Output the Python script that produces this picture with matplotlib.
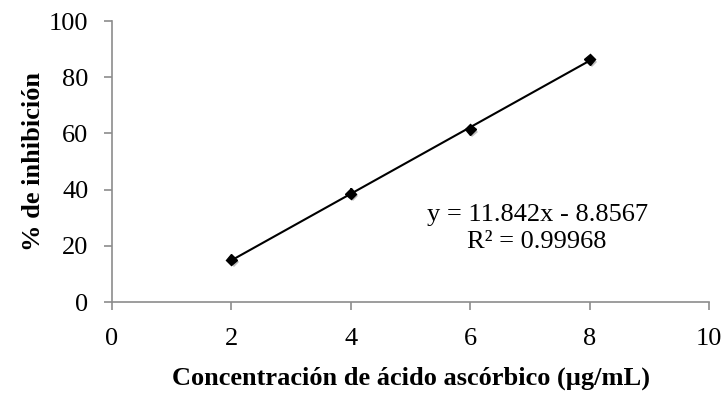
"""Calibration curve: % inhibition vs ascorbic acid concentration."""
import numpy as np, matplotlib
matplotlib.use("Agg")
import matplotlib.pyplot as plt
import matplotlib.patheffects as pe

plt.rcParams["font.family"] = ["Liberation Serif", "DejaVu Serif"]
INK, AX = "#000000", "#8c8c8c"

conc = [2, 4, 6, 8]
inhib = [15.1, 38.6, 61.4, 86.3]
err = [1.0, 1.8, 0.8, 0.8]
slope, intercept = 11.842, -8.8567
eq_text = "y = 11.842x - 8.8567\nR² = 0.99968"

fig = plt.figure(figsize=(7.25, 3.94), dpi=100)
ax = fig.add_axes([0.1545, 0.2335, 0.978 - 0.1545, 0.9467 - 0.2335])

xs = np.array([conc[0], conc[-1]])
ax.plot(xs, slope * xs + intercept, color=INK, lw=1.5, zorder=2)
shadow = [pe.SimplePatchShadow(offset=(1.5, -1.5), alpha=0.25), pe.Normal()]
ax.errorbar(conc, inhib, yerr=err, fmt="D", ms=5.5, color=INK, ecolor=INK,
            elinewidth=1.2, capsize=0, zorder=3, path_effects=shadow)

ax.set_xlim(0, 10); ax.set_ylim(0, 100)
ax.set_xticks(range(0, 11, 2)); ax.set_yticks(range(0, 101, 20))
for s in ("top", "right"): ax.spines[s].set_visible(False)
for s in ("left", "bottom"):
    ax.spines[s].set_color(AX); ax.spines[s].set_linewidth(1.2)
ax.tick_params(colors=AX, labelcolor=INK, labelsize=19, length=6, width=1.2)
ax.tick_params(axis="y", pad=11)
ax.tick_params(axis="x", pad=13)

ax.text(7.12, 26.0, eq_text, ha="center", va="center", fontsize=19,
        linespacing=1.3, color=INK)
ax.set_xlabel("Concentración de ácido ascórbico (µg/mL)", fontsize=19,
              fontweight="bold", labelpad=12)
ax.set_ylabel("% de inhibición", fontsize=19, fontweight="bold", labelpad=3)

fig.savefig("out.png", dpi=100)
print("ok")
